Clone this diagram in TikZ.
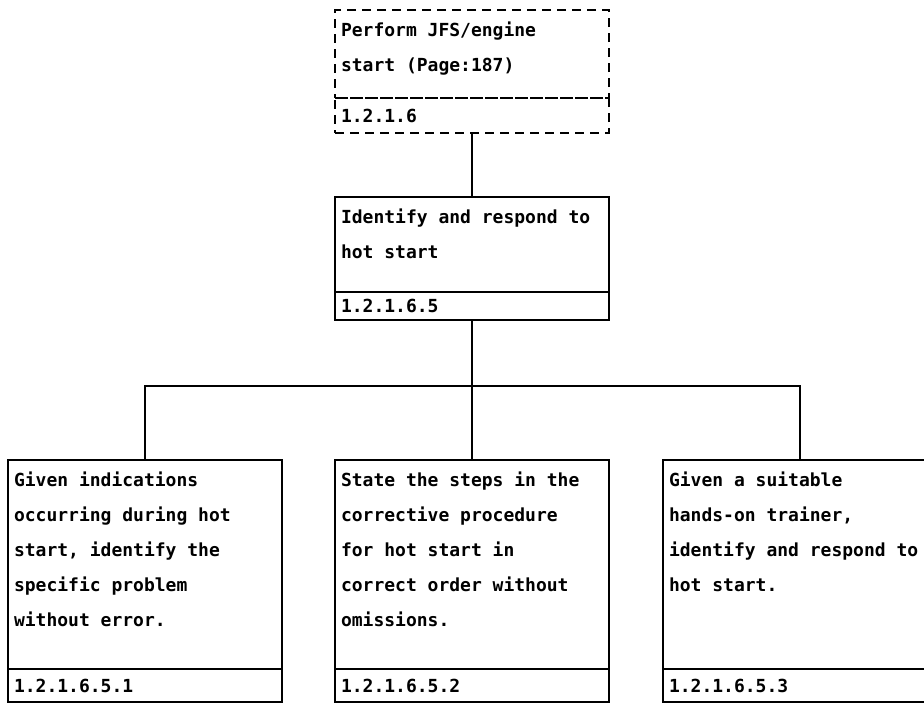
\documentclass[tikz,border=0pt]{standalone}
\usepackage{fontspec}
\newfontfamily\plotterfont{DejaVu Sans Mono}
\usetikzlibrary{positioning}

% text block of a task box, top aligned
\newcommand{\tasktext}[2]{\parbox[b][#1][t]{262pt}{\rule{0pt}{26pt}#2}}

\begin{document}
\begin{tikzpicture}[
  x=1pt, y=-1pt,
  font=\plotterfont\bfseries\fontsize{18pt}{35pt}\selectfont,
  taskbox/.style={draw, rectangle, line width=1.5pt, minimum width=274pt, inner xsep=6pt, inner ysep=0pt, outer sep=0pt},
  numbox/.style={draw, rectangle, line width=1.5pt, minimum width=274pt, minimum height=#1, inner xsep=6pt, inner ysep=0pt, outer sep=0pt, text width=262pt, align=left},
  numbox/.default=33pt,
  dashedbox/.style={dash pattern=on 9pt off 6pt},
  link/.style={line width=1.5pt},
]
  \useasboundingbox (0,0) rectangle (924,705);
  \clip (0,0) rectangle (924,705);

  % parent task (dashed)
  \node[taskbox, dashedbox, anchor=north] (t0) at (472,10) {\tasktext{88pt}{Perform JFS/engine\\start (Page:187)}};
  \node[numbox=35pt, dashedbox, below=0pt of t0] (t0num) {1.2.1.6};

  \node[taskbox, below=64pt of t0num] (t1) {\tasktext{95pt}{Identify and respond to\\hot start}};
  \node[numbox=28pt, below=0pt of t1] (t1num) {1.2.1.6.5};

  % sub tasks
  \node[taskbox, below=140pt of t1num] (t12) {\tasktext{209pt}{State the steps in the\\corrective procedure\\for hot start in\\correct order without\\omissions.}};
  \node[taskbox, left=53pt of t12] (t11) {\tasktext{209pt}{Given indications\\occurring during hot\\start, identify the\\specific problem\\without error.}};
  \node[taskbox, right=54pt of t12] (t13) {\tasktext{209pt}{Given a suitable\\hands-on trainer,\\identify and respond to\\hot start.}};
  \node[numbox, below=0pt of t11] (t11num) {1.2.1.6.5.1};
  \node[numbox, below=0pt of t12] (t12num) {1.2.1.6.5.2};
  \node[numbox, below=0pt of t13] (t13num) {1.2.1.6.5.3};

  % connectors
  \coordinate[below=66pt of t1num] (fork);
  \draw[link] (t0num) -- (t1);
  \draw[link] (t1num) -- (fork);
  \foreach \k in {t11,t12,t13}
    \draw[link] (fork) -| (\k);
\end{tikzpicture}
\end{document}
